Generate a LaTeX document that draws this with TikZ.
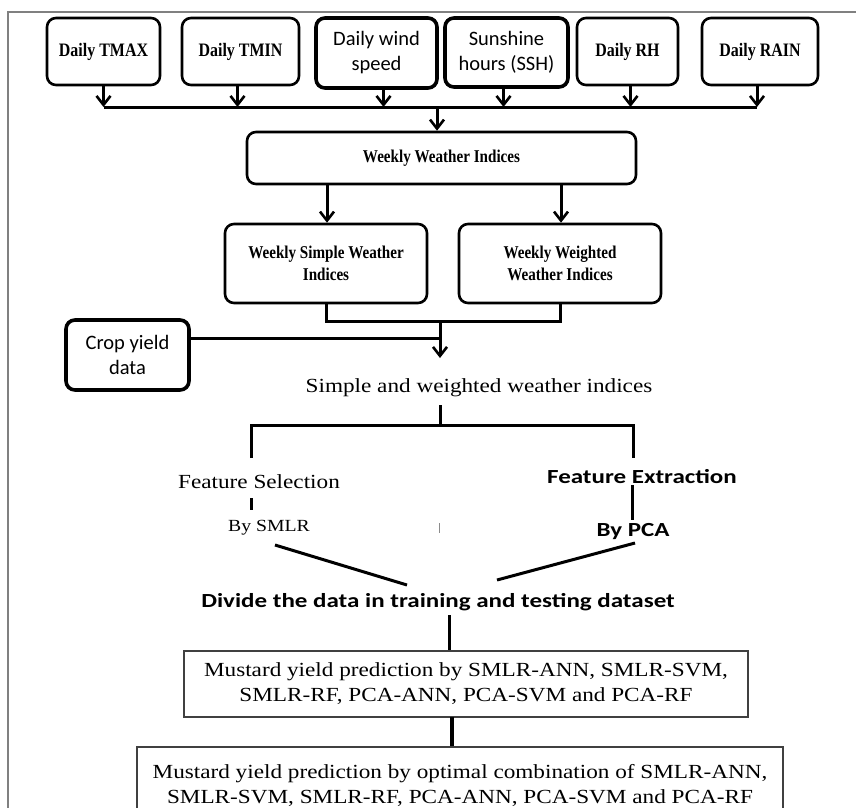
\documentclass[tikz,border=0pt]{standalone}
\usepackage{fontspec}
\usetikzlibrary{arrows.meta,calc}
\newfontfamily\tN[FakeStretch=0.84]{Liberation Serif}
\newfontfamily\tW[FakeStretch=1.16]{Liberation Serif}
\newfontfamily\cR{Carlito}
\newfontfamily\cW[FakeStretch=1.25]{Carlito}
\tikzset{
  rbox/.style={draw=black, line width=2.6pt, rounded corners=9pt, align=center, inner sep=2pt, fill=white},
  thickbox/.style={rbox, line width=3.6pt},
  sqbox/.style={draw=black!75, line width=1.8pt, align=center, inner sep=2pt},
  conn/.style={line width=3pt, black},
  arr/.style={conn, -{Straight Barb[length=9pt,width=14pt,line width=2.6pt]}},
  topfont/.style={font=\tN\bfseries\fontsize{19}{22}\selectfont},
  calfont/.style={font=\cR\fontsize{20.5}{25}\selectfont},
  weekfont/.style={font=\tN\bfseries\fontsize{18}{22}\selectfont},
  serfont/.style={font=\tW\fontsize{20}{25}\selectfont},
  calbold/.style={font=\cW\bfseries\fontsize{20}{24}\selectfont},
}
\begin{document}
\begin{tikzpicture}[x=1pt,y=-1pt]
\useasboundingbox (0,0) rectangle (856,807);
\clip (0,0) rectangle (856,807);
\fill[white] (0,0) rectangle (856,807);
% frame
\draw[black!50, line width=2pt] (8,808) -- (8,12) -- (857,12);

% top boxes
\node[rbox, topfont, minimum width=113, minimum height=67] (tmax) at (103.5,51.5) {Daily TMAX};
\node[rbox, topfont, minimum width=117, minimum height=67] (tmin) at (240.5,51.5) {Daily TMIN};
\node[thickbox, calfont, minimum width=121, minimum height=70] (wind) at (376.5,53) {Daily wind\\speed};
\node[thickbox, calfont, minimum width=123, minimum height=69] (ssh) at (506.5,52.5) {Sunshine\\hours (SSH)};
\node[rbox, topfont, minimum width=101, minimum height=67] (rh) at (627.5,51.5) {Daily RH};
\node[rbox, topfont, minimum width=116, minimum height=67] (rain) at (760,51.5) {Daily RAIN};

\coordinate (bus) at (437,107);
\draw[conn] (tmax.south |- bus) -- ([xshift=-3pt]rain.south |- bus);
\draw[arr] (tmax.south) -- (tmax.south |- bus);
\draw[arr] ([xshift=-3pt]tmin.south) -- ([xshift=-3pt]tmin.south |- bus);
\draw[arr] ([xshift=7pt]wind.south) -- ([xshift=7pt]wind.south |- bus);
\draw[arr] ([xshift=-3pt]ssh.south) -- ([xshift=-3pt]ssh.south |- bus);
\draw[arr] ([xshift=3pt]rh.south) -- ([xshift=3pt]rh.south |- bus);
\draw[arr] ([xshift=-3pt]rain.south) -- ([xshift=-3pt]rain.south |- bus);

% weekly weather indices
\node[rbox, weekfont, minimum width=389, minimum height=52] (wwi) at (441.5,158) {Weekly Weather Indices};
\draw[arr] (bus) -- (bus |- wwi.north);

\node[rbox, weekfont, minimum width=202, minimum height=79] (ws) at (326,263.5) {Weekly Simple Weather\\Indices};
\node[rbox, weekfont, minimum width=202, minimum height=79] (ww) at (560,263.5) {Weekly Weighted\\Weather Indices};
\draw[arr] ([xshift=1pt]ws.north |- wwi.south) -- ([xshift=1pt]ws.north);
\draw[arr] ([xshift=1pt]ww.north |- wwi.south) -- ([xshift=1pt]ww.north);

\coordinate (m) at (440,321);
\draw[conn] (ws.south) -- (ws.south |- m) -- (ww.south |- m) -- (ww.south);

% crop yield
\node[thickbox, calfont, minimum width=123, minimum height=70] (crop) at (127.5,355) {Crop yield\\data};
\coordinate (j) at (440,338);
\draw[conn] (crop.east |- j) -- (j);
\coordinate (jt) at (440,358);
\draw[arr] (m) -- (jt);

\node[serfont, inner sep=0pt] (sw) at (479,388) {Simple and weighted weather indices};

% split
\coordinate (s1) at (440,405);
\coordinate (s2) at (440,425);
\coordinate (fl) at (251,425);
\coordinate (fr) at (633,425);
\coordinate (fl2) at (251,458);
\coordinate (fr2) at (633,458);
\draw[conn] (s1) -- (s2);
\draw[conn] (fl2) -- (fl) -- (fr) -- (fr2);

\node[serfont, inner sep=0pt] (fs) at (259,482) {Feature Selection};
\node[calbold, inner sep=0pt] (fe) at (642,477) {Feature Extraction};

\coordinate (d1) at (251,498);
\coordinate (d2) at (251,510);
\draw[conn] (d1) -- (d2);
\node[font=\tW\fontsize{17}{20}\selectfont, inner sep=0pt] (smlr) at (269,528) {By SMLR};

\coordinate (p1) at (632,485);
\coordinate (p2) at (632,520);
\draw[conn] (p1) -- (p2);
\node[calbold, inner sep=0pt] (pca) at (633,532) {By PCA};

% stray tick
\draw[black!45, line width=1pt] (439,523) -- (439,533);

% diagonals
\coordinate (g1) at (275,545);
\coordinate (g2) at (407,585);
\coordinate (h1) at (635,543);
\coordinate (h2) at (497,580);
\draw[conn] (g1) -- (g2);
\draw[conn] (h1) -- (h2);

\node[calbold, inner sep=0pt] (dv) at (438,602) {Divide the data in training and testing dataset};

% mustard boxes
\node[sqbox, serfont, minimum width=564, minimum height=66] (b1) at (466,684) {Mustard yield prediction by SMLR-ANN, SMLR-SVM,\\SMLR-RF, PCA-ANN, PCA-SVM and PCA-RF};
\node[sqbox, serfont, minimum width=646, minimum height=78, anchor=north] (b2) at (460,746) {Mustard yield prediction by optimal combination of SMLR-ANN,\\SMLR-SVM, SMLR-RF, PCA-ANN, PCA-SVM and PCA-RF};

\coordinate (e1) at (449,615);
\draw[conn] (e1) -- (e1 |- b1.north);
\coordinate (e2) at (452,717);
\draw[conn, line width=3.8pt] (e2) -- (e2 |- b2.north);
\end{tikzpicture}
\end{document}
